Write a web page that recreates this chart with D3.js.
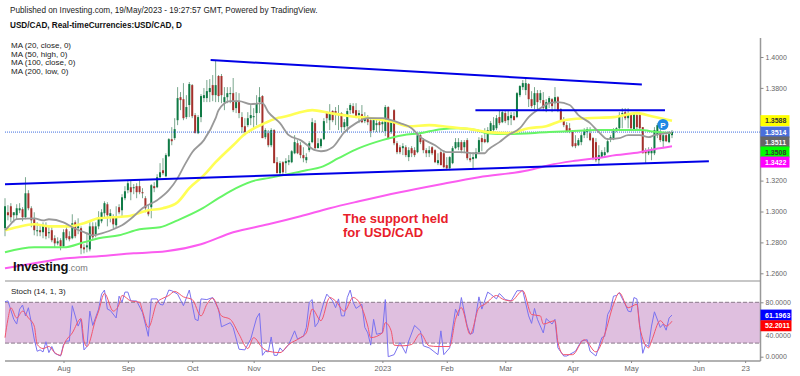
<!DOCTYPE html>
<html>
<head>
<meta charset="utf-8">
<script src="https://cdn.jsdelivr.net/npm/d3@7"></script>
<style>
  html, body { margin: 0; padding: 0; background: #fff; overflow: hidden; }
  text { font-family: "Liberation Sans", Arial, sans-serif; }
</style>
</head>
<body>
<div id="chart"></div>
<script>
// daily USD/CAD candles, one row = 10 trading days
const opens = [
  1.2892,1.2995,1.3034,1.2976,1.2976,1.3008,1.3015,1.2963,1.3118,1.3021,
  1.2950,1.2872,1.2879,1.2866,1.2911,1.2859,1.2879,1.2827,1.2794,1.2814,
  1.2775,1.2885,1.2840,1.2827,1.2930,1.2892,1.2892,1.2768,1.2768,1.2755,
  1.2904,1.2853,1.2904,1.2937,1.2989,1.3047,1.2969,1.2969,1.2911,1.3028,
  1.3008,1.3086,1.3138,1.3157,1.3151,1.3164,1.3164,1.3125,1.3086,1.3008,
  1.3028,1.3164,1.3157,1.3222,1.3267,1.3228,1.3358,1.3468,1.3475,1.3591,
  1.3740,1.3727,1.3611,1.3689,1.3818,1.3624,1.3507,1.3611,1.3734,1.3734,
  1.3773,1.3818,1.3753,1.3877,1.3877,1.3708,1.3740,1.3760,1.3766,1.3669,
  1.3708,1.3611,1.3552,1.3559,1.3604,1.3611,1.3637,1.3708,1.3747,1.3481,
  1.3507,1.3429,1.3527,1.3319,1.3248,1.3319,1.3313,1.3319,1.3319,1.3377,
  1.3442,1.3429,1.3365,1.3332,1.3397,1.3449,1.3572,1.3410,1.3423,1.3468,
  1.3643,1.3591,1.3650,1.3650,1.3624,1.3637,1.3546,1.3552,1.3656,1.3682,
  1.3656,1.3624,1.3630,1.3585,1.3604,1.3591,1.3527,1.3559,1.3578,1.3565,
  1.3520,1.3676,1.3514,1.3656,1.3442,1.3416,1.3410,1.3416,1.3352,1.3410,
  1.3397,1.3384,1.3494,1.3462,1.3397,1.3377,1.3416,1.3397,1.3313,1.3384,
  1.3377,1.3300,1.3280,1.3313,1.3410,1.3416,1.3449,1.3416,1.3462,1.3345,
  1.3339,1.3345,1.3384,1.3475,1.3468,1.3449,1.3514,1.3527,1.3539,1.3611,
  1.3578,1.3637,1.3591,1.3604,1.3617,1.3611,1.3753,1.3805,1.3786,1.3825,
  1.3727,1.3689,1.3766,1.3721,1.3721,1.3663,1.3701,1.3727,1.3701,1.3740,
  1.3663,1.3598,1.3559,1.3539,1.3520,1.3442,1.3429,1.3449,1.3494,1.3514,
  1.3507,1.3475,1.3449,1.3332,1.3352,1.3365,1.3384,1.3468,1.3468,1.3527,
  1.3539,1.3630,1.3643,1.3604,1.3624,1.3533,1.3624,1.3624,1.3546,1.3397,
  1.3377,1.3377,1.3377,1.3494,1.3514,1.3455,1.3494,1.3449,1.3494
];
const highs = [
  1.3086,1.3041,1.3054,1.2995,1.3047,1.3054,1.3028,1.3222,1.3138,1.3034,
  1.2995,1.2930,1.2911,1.2930,1.2930,1.2904,1.2904,1.2846,1.2833,1.2827,
  1.2885,1.2904,1.2872,1.2982,1.2943,1.2956,1.2904,1.2788,1.2866,1.2937,
  1.2930,1.2930,1.3002,1.3015,1.3066,1.3060,1.3015,1.2982,1.3034,1.3047,
  1.3112,1.3164,1.3203,1.3203,1.3177,1.3183,1.3209,1.3151,1.3099,1.3041,
  1.3177,1.3190,1.3241,1.3313,1.3345,1.3377,1.3475,1.3546,1.3604,1.3805,
  1.3773,1.3831,1.3753,1.3838,1.3825,1.3637,1.3624,1.3760,1.3799,1.3851,
  1.3857,1.3883,1.3980,1.3883,1.3890,1.3805,1.3805,1.3805,1.3864,1.3773,
  1.3766,1.3643,1.3604,1.3643,1.3689,1.3669,1.3753,1.3805,1.3753,1.3539,
  1.3527,1.3539,1.3533,1.3352,1.3326,1.3326,1.3345,1.3365,1.3397,1.3494,
  1.3462,1.3449,1.3416,1.3377,1.3455,1.3604,1.3591,1.3475,1.3475,1.3604,
  1.3650,1.3695,1.3656,1.3676,1.3689,1.3643,1.3598,1.3669,1.3701,1.3701,
  1.3701,1.3656,1.3689,1.3643,1.3624,1.3611,1.3604,1.3604,1.3591,1.3591,
  1.3689,1.3682,1.3591,1.3663,1.3455,1.3429,1.3442,1.3429,1.3416,1.3423,
  1.3416,1.3507,1.3514,1.3475,1.3410,1.3423,1.3423,1.3403,1.3377,1.3397,
  1.3397,1.3352,1.3358,1.3423,1.3475,1.3475,1.3462,1.3462,1.3475,1.3384,
  1.3384,1.3410,1.3481,1.3494,1.3539,1.3546,1.3585,1.3611,1.3624,1.3656,
  1.3656,1.3650,1.3656,1.3643,1.3643,1.3773,1.3818,1.3851,1.3870,1.3831,
  1.3779,1.3805,1.3786,1.3786,1.3773,1.3727,1.3747,1.3734,1.3805,1.3747,
  1.3669,1.3611,1.3578,1.3572,1.3527,1.3494,1.3475,1.3507,1.3539,1.3546,
  1.3546,1.3481,1.3475,1.3429,1.3397,1.3416,1.3475,1.3494,1.3539,1.3546,
  1.3643,1.3669,1.3669,1.3669,1.3637,1.3643,1.3637,1.3637,1.3546,1.3410,
  1.3416,1.3416,1.3546,1.3572,1.3539,1.3514,1.3507,1.3520,1.3527
];
const lows = [
  1.2840,1.2943,1.2930,1.2930,1.2950,1.2989,1.2937,1.2950,1.3008,1.2898,
  1.2846,1.2840,1.2840,1.2827,1.2820,1.2827,1.2801,1.2768,1.2781,1.2749,
  1.2768,1.2814,1.2807,1.2820,1.2827,1.2853,1.2723,1.2729,1.2736,1.2742,
  1.2820,1.2833,1.2885,1.2924,1.2963,1.2904,1.2930,1.2892,1.2898,1.2982,
  1.2969,1.3073,1.3118,1.3073,1.3112,1.3086,1.3112,1.3086,1.2995,1.2969,
  1.2956,1.3125,1.3151,1.3216,1.3235,1.3222,1.3352,1.3429,1.3462,1.3559,
  1.3656,1.3591,1.3598,1.3611,1.3604,1.3507,1.3501,1.3578,1.3708,1.3708,
  1.3708,1.3714,1.3708,1.3708,1.3701,1.3656,1.3701,1.3701,1.3643,1.3637,
  1.3604,1.3507,1.3494,1.3546,1.3559,1.3539,1.3559,1.3637,1.3475,1.3468,
  1.3416,1.3416,1.3313,1.3248,1.3235,1.3235,1.3248,1.3300,1.3313,1.3371,
  1.3371,1.3345,1.3319,1.3313,1.3384,1.3442,1.3403,1.3410,1.3410,1.3462,
  1.3572,1.3527,1.3578,1.3559,1.3527,1.3514,1.3527,1.3514,1.3630,1.3630,
  1.3604,1.3572,1.3572,1.3572,1.3559,1.3481,1.3514,1.3514,1.3514,1.3514,
  1.3488,1.3468,1.3501,1.3429,1.3371,1.3371,1.3365,1.3352,1.3326,1.3352,
  1.3352,1.3377,1.3436,1.3377,1.3352,1.3352,1.3365,1.3313,1.3300,1.3300,
  1.3280,1.3267,1.3267,1.3306,1.3403,1.3397,1.3377,1.3384,1.3332,1.3319,
  1.3280,1.3339,1.3377,1.3390,1.3442,1.3442,1.3507,1.3514,1.3527,1.3559,
  1.3572,1.3572,1.3559,1.3559,1.3591,1.3604,1.3740,1.3786,1.3753,1.3676,
  1.3669,1.3663,1.3663,1.3701,1.3650,1.3643,1.3669,1.3643,1.3656,1.3643,
  1.3578,1.3546,1.3514,1.3507,1.3416,1.3410,1.3423,1.3429,1.3475,1.3475,
  1.3455,1.3332,1.3319,1.3306,1.3352,1.3352,1.3377,1.3449,1.3462,1.3514,
  1.3533,1.3539,1.3591,1.3539,1.3527,1.3527,1.3527,1.3527,1.3377,1.3313,
  1.3365,1.3332,1.3365,1.3475,1.3449,1.3410,1.3449,1.3442,1.3475
];
const closes = [
  1.3034,1.2976,1.2963,1.2995,1.3021,1.3021,1.2963,1.3118,1.3021,1.2943,
  1.2879,1.2879,1.2866,1.2911,1.2840,1.2866,1.2814,1.2794,1.2807,1.2775,
  1.2866,1.2827,1.2820,1.2924,1.2840,1.2904,1.2762,1.2755,1.2781,1.2904,
  1.2833,1.2904,1.2963,1.2995,1.3054,1.2976,1.2989,1.2917,1.2969,1.2995,
  1.3092,1.3131,1.3183,1.3125,1.3157,1.3125,1.3125,1.3118,1.3021,1.2982,
  1.3170,1.3151,1.3222,1.3254,1.3248,1.3365,1.3468,1.3455,1.3533,1.3734,
  1.3721,1.3604,1.3676,1.3825,1.3617,1.3507,1.3611,1.3747,1.3753,1.3779,
  1.3799,1.3753,1.3818,1.3747,1.3753,1.3740,1.3766,1.3766,1.3656,1.3708,
  1.3637,1.3546,1.3514,1.3604,1.3624,1.3617,1.3701,1.3740,1.3475,1.3527,
  1.3429,1.3527,1.3313,1.3248,1.3313,1.3254,1.3326,1.3332,1.3390,1.3449,
  1.3377,1.3365,1.3345,1.3352,1.3442,1.3578,1.3410,1.3442,1.3468,1.3585,
  1.3604,1.3643,1.3591,1.3630,1.3637,1.3546,1.3578,1.3650,1.3689,1.3637,
  1.3611,1.3637,1.3578,1.3604,1.3578,1.3520,1.3591,1.3572,1.3559,1.3578,
  1.3676,1.3475,1.3578,1.3442,1.3384,1.3384,1.3423,1.3365,1.3397,1.3377,
  1.3365,1.3494,1.3449,1.3397,1.3377,1.3397,1.3377,1.3319,1.3332,1.3300,
  1.3287,1.3280,1.3352,1.3410,1.3449,1.3449,1.3397,1.3449,1.3345,1.3332,
  1.3352,1.3384,1.3462,1.3449,1.3449,1.3527,1.3572,1.3559,1.3604,1.3572,
  1.3643,1.3585,1.3617,1.3624,1.3591,1.3766,1.3812,1.3831,1.3831,1.3727,
  1.3682,1.3766,1.3708,1.3766,1.3669,1.3708,1.3734,1.3682,1.3740,1.3656,
  1.3591,1.3559,1.3514,1.3520,1.3423,1.3423,1.3462,1.3494,1.3520,1.3533,
  1.3462,1.3345,1.3332,1.3365,1.3384,1.3384,1.3455,1.3481,1.3533,1.3539,
  1.3624,1.3637,1.3604,1.3630,1.3539,1.3630,1.3546,1.3539,1.3377,1.3377,
  1.3397,1.3397,1.3527,1.3559,1.3462,1.3494,1.3455,1.3501,1.3514
];

// moving averages, read at the bends of each line: day number + price
const ma20Days = [0,1,4,10,13,15,20,23,27,30,32,37,40,44,47,52,56,59,61,64,68,72,73,77,80,84,88,90,94,97,101,106,108,112,116,120,124,129,132,135,139,142,147,151,156,160,164,165,169,172,176,179,183,186,189,193,196,200,203,206,210,213,217,220,222,226,228];
const ma20 = [1.2879,1.2898,1.2950,1.2956,1.2943,1.2950,1.2930,1.2898,1.2866,1.2846,1.2853,1.2885,1.2911,1.2969,1.3021,1.3073,1.3138,1.3216,1.3287,1.3384,1.3462,1.3604,1.3656,1.3714,1.3714,1.3695,1.3701,1.3643,1.3572,1.3494,1.3462,1.3397,1.3390,1.3416,1.3514,1.3572,1.3604,1.3604,1.3591,1.3572,1.3539,1.3481,1.3429,1.3384,1.3384,1.3377,1.3377,1.3397,1.3449,1.3494,1.3539,1.3611,1.3669,1.3701,1.3708,1.3689,1.3624,1.3572,1.3514,1.3468,1.3475,1.3494,1.3494,1.3481,1.3494,1.3507,1.3511];
const ma50Days = [0,4,10,15,22,27,32,37,42,49,54,59,63,68,72,78,82,88,93,95,100,105,111,118,125,133,138,145,152,159,165,172,179,185,191,199,208,216,221,228];
const ma50 = [1.2879,1.2898,1.2917,1.2904,1.2904,1.2924,1.2956,1.2963,1.2969,1.3008,1.3021,1.3060,1.3151,1.3235,1.3319,1.3429,1.3501,1.3565,1.3604,1.3611,1.3637,1.3656,1.3637,1.3617,1.3604,1.3578,1.3552,1.3559,1.3546,1.3533,1.3514,1.3507,1.3539,1.3552,1.3591,1.3604,1.3611,1.3637,1.3617,1.3588];
const ma100Days = [0,10,20,27,32,39,46,53,59,67,73,79,86,90,103,108,114,121,129,136,142,149,155,161,165,172,186,193,202,210,217,223,228];
const ma100 = [1.2736,1.2768,1.2768,1.2801,1.2827,1.2846,1.2885,1.2898,1.2943,1.3015,1.3086,1.3151,1.3203,1.3216,1.3267,1.3287,1.3345,1.3410,1.3462,1.3494,1.3507,1.3533,1.3539,1.3527,1.3507,1.3501,1.3514,1.3520,1.3527,1.3527,1.3527,1.3514,1.3508];
const ma200Days = [0,10,21,32,44,55,67,78,90,101,111,121,135,149,162,179,186,194,202,209,217,222,228];
const ma200 = [1.2632,1.2665,1.2697,1.2710,1.2729,1.2742,1.2788,1.2866,1.2917,1.2969,1.3021,1.3066,1.3125,1.3177,1.3222,1.3267,1.3300,1.3326,1.3345,1.3365,1.3384,1.3403,1.3422];

// hand drawn trend lines: [start, end] in days and prices
const upperDays = [70.3,217.7], upperPrices = [1.3980,1.3822];
const resistDays = [160.8,225.6], resistPrices = [1.3656,1.3656];
const supportDays = [0,240.6], supportPrices = [1.3177,1.3326];

// stochastic, read at the bends
const stochKDays = [0,1,3,4,5,6,7,8,9,10,11,12,13,14,15,16,17,19,20,21,22,23,25,26,27,28,29,30,32,33,34,35,36,38,39,40,41,42,43,45,47,49,50,52,53,54,56,57,59,61,63,65,66,67,69,71,73,74,77,78,80,82,84,86,87,88,89,90,91,92,93,94,95,97,99,100,102,103,104,105,106,107,109,110,112,113,114,115,116,117,118,119,120,122,123,124,125,126,127,129,130,131,133,135,137,138,140,142,143,145,148,149,150,152,154,155,156,158,159,160,162,163,165,166,168,169,171,173,175,177,179,180,181,182,184,185,187,188,189,191,192,195,197,199,200,202,204,205,206,207,208,209,210,212,213,214,215,216,218,219,220,221,222,224,225,226,227,228];
const stochK = [81,82,55,48,70,76,60,72,50,26,8,10,7,22,6,15,5,1,18,23,23,75,45,55,10,15,67,46,70,92,98,70,68,57,89,80,95,95,82,82,65,30,85,85,77,76,98,97,92,75,98,55,53,85,84,87,70,44,50,43,11,10,26,57,64,2,8,7,29,2,2,13,8,18,38,26,30,43,80,84,44,50,80,92,82,72,85,60,60,87,98,80,71,77,43,35,17,55,33,35,84,0,3,21,5,23,46,38,16,13,3,38,3,13,70,60,87,45,33,35,88,70,95,92,85,93,84,82,97,97,60,49,71,55,35,56,48,55,13,1,1,8,23,25,8,1,28,30,62,70,89,90,94,77,67,66,87,85,5,18,15,45,66,43,48,39,57,61.1963];
const stochDDays = [0,1,2,4,6,8,10,11,13,15,17,19,20,23,26,27,28,31,32,34,37,39,40,43,46,47,49,52,54,56,58,61,64,67,69,71,74,77,80,83,85,88,90,94,97,101,103,105,108,111,113,116,119,122,124,125,129,130,132,133,136,139,142,145,148,152,154,156,159,162,164,168,170,173,177,180,183,184,188,189,191,194,198,202,205,208,210,213,216,217,220,221,224,226,228];
const stochD = [28,55,72,57,67,57,45,18,12,15,6,2,16,35,56,23,15,55,67,93,67,77,90,82,80,67,43,80,86,90,96,88,84,60,77,86,60,55,33,12,28,13,8,6,18,28,35,70,53,87,82,67,87,72,45,28,35,50,38,17,16,18,34,16,15,15,55,72,33,72,77,90,85,82,97,62,60,48,53,21,3,3,25,7,33,77,94,72,77,43,13,23,53,45,52.2011];

// axis labels
const priceTicks = [1.40,1.38,1.32,1.30,1.28,1.26];
const stochTicks = [80,40,0];
const monthLabels = ["Aug","Sep","Oct","Nov","Dec","2023","Feb","Mar","Apr","May","Jun","23"];
const monthDays = [20,42,64,85,107,129,151,171,194,214,237,253];
const legendLines = ["MA (20, close, 0)","MA (50, high, 0)","MA (100, close, 0)","MA (200, low, 0)"];
const lastPrices = [
  {v: 1.3588, show: 1.3588, fill: "#ffff00", text: "#333"},
  {v: 1.3514, show: 1.3514, fill: "#4a6fdc", text: "#fff"},
  {v: 1.3450, show: 1.3511, fill: "#666666", text: "#fff"},
  {v: 1.3385, show: 1.3508, fill: "#00ff00", text: "#333"},
  {v: 1.3320, show: 1.3422, fill: "#ff00ff", text: "#fff"}
];
const lastStoch = [
  {v: 61.1963, fill: "#0000ff"},
  {v: 45.5, show: 52.2011, fill: "#ff0000"}
];

const width = 800, height = 376;
const svg = d3.select("#chart").append("svg")
  .attr("width", width).attr("height", height)
  .style("display", "block");

const axisX = 760.5;
const x = d3.scaleLinear().domain([0, 228]).range([5, 672]);
const y = d3.scaleLinear().domain([1.26, 1.40]).range([273.3, 57]);
const ys = d3.scaleLinear().domain([0, 80]).range([356.7, 302.3]);

// titles
svg.append("text").attr("x", 10).attr("y", 13).attr("font-size", 8.2).attr("fill", "#222")
  .text("Published on Investing.com, 19/May/2023 - 19:27:57 GMT, Powered by TradingView.");
svg.append("text").attr("x", 10).attr("y", 28).attr("font-size", 8.2).attr("font-weight", "bold").attr("fill", "#111")
  .text("USD/CAD, Real-timeCurrencies:USD/CAD, D");
svg.append("g").selectAll("text").data(legendLines).join("text")
  .attr("x", 11).attr("y", (d, i) => 48 + i * 8.5)
  .attr("font-size", 8).attr("fill", "#222").text(d => d);

// stoch panel background
svg.append("rect").attr("x", 5).attr("y", ys(80)).attr("width", axisX - 5).attr("height", ys(20) - ys(80))
  .attr("fill", "#dfbfdf");
svg.append("g").selectAll("line").data([80, 20]).join("line")
  .attr("x1", 5).attr("x2", axisX).attr("y1", d => ys(d)).attr("y2", d => ys(d))
  .attr("stroke", "#8a7a8a").attr("stroke-width", 1).attr("stroke-dasharray", "4,2");

// candles
const candles = svg.append("g");
closes.forEach((c, i) => {
  const up = c >= opens[i];
  candles.append("line")
    .attr("x1", x(i)).attr("x2", x(i)).attr("y1", y(highs[i])).attr("y2", y(lows[i]))
    .attr("stroke", "#4d8a68").attr("stroke-opacity", 0.75).attr("stroke-width", 1);
  candles.append("rect")
    .attr("x", x(i) - 1).attr("width", 2)
    .attr("y", y(Math.max(c, opens[i])))
    .attr("height", Math.max(1, Math.abs(y(c) - y(opens[i]))))
    .attr("fill", up ? "#0f7a45" : "#a5302c");
});

// last price dotted line
svg.append("line").attr("x1", 5).attr("x2", axisX).attr("y1", y(1.3514)).attr("y2", y(1.3514))
  .attr("stroke", "#3f6fe0").attr("stroke-width", 1).attr("stroke-dasharray", "1,1");

// moving averages
const maLine = d3.line().x(d => x(d[0])).y(d => y(d[1])).curve(d3.curveMonotoneX);
function drawMa(days, values, color, w) {
  svg.append("path").datum(d3.zip(days, values))
    .attr("fill", "none").attr("stroke", color).attr("stroke-width", w).attr("d", maLine);
}
drawMa(ma200Days, ma200, "#fb5cf0", 2);
drawMa(ma100Days, ma100, "#66f566", 2);
drawMa(ma50Days, ma50, "#ffff55", 2.6);
drawMa(ma20Days, ma20, "#999999", 1.8);

// trend lines
function drawTrend(days, prices) {
  svg.append("line")
    .attr("x1", x(days[0])).attr("x2", x(days[1]))
    .attr("y1", y(prices[0])).attr("y2", y(prices[1]))
    .attr("stroke", "#0000e6").attr("stroke-width", 2);
}
drawTrend(upperDays, upperPrices);
drawTrend(resistDays, resistPrices);
drawTrend(supportDays, supportPrices);

// annotation
svg.append("text").attr("x", 343).attr("y", 223).attr("font-size", 13).attr("font-weight", "bold")
  .attr("fill", "#e8202a").text("The support held");
svg.append("text").attr("x", 343).attr("y", 237).attr("font-size", 13).attr("font-weight", "bold")
  .attr("fill", "#e8202a").text("for USD/CAD");

// watermark
const logo = svg.append("text").attr("x", 13).attr("y", 271);
logo.append("tspan").attr("font-size", 13).attr("font-weight", "bold").attr("letter-spacing", -0.2).attr("fill", "#111").text("Investing");
logo.append("tspan").attr("font-size", 9).attr("fill", "#777").text(".com");

// P marker
svg.append("circle").attr("cx", 663).attr("cy", 124.5).attr("r", 5.5).attr("fill", "#1e88e5");
svg.append("text").attr("x", 663).attr("y", 127.5).attr("text-anchor", "middle")
  .attr("font-size", 8).attr("font-weight", "bold").attr("fill", "#fff").text("P");

// stoch lines
const stochLine = d3.line().x(d => x(d[0])).y(d => ys(d[1]));
svg.append("text").attr("x", 11).attr("y", 294).attr("font-size", 8).attr("fill", "#222").text("Stoch (14, 1, 3)");
svg.append("path").datum(d3.zip(stochKDays, stochK))
  .attr("fill", "none").attr("stroke", "#7a72f0").attr("stroke-width", 1).attr("d", stochLine);
svg.append("path").datum(d3.zip(stochDDays, stochD))
  .attr("fill", "none").attr("stroke", "#f2566e").attr("stroke-width", 1)
  .attr("d", stochLine.curve(d3.curveMonotoneX));

// frame lines
svg.append("line").attr("x1", 5).attr("x2", axisX).attr("y1", 281).attr("y2", 281)
  .attr("stroke", "#b5b5b5").attr("stroke-width", 1.5);

// axes
function styleAxis(g, size) {
  g.select(".domain").attr("stroke", "#999").attr("stroke-width", 1.5);
  g.selectAll(".tick line").attr("stroke", "#888");
  g.selectAll("text").attr("font-size", size).attr("fill", "#666")
    .style("font-family", '"Liberation Sans", Arial, sans-serif');
}
svg.append("g").attr("transform", "translate(0,361)")
  .call(d3.axisBottom(x).tickValues(monthDays).tickSize(2).tickPadding(3)
    .tickFormat((d, i) => monthLabels[i]))
  .call(g => g.select(".domain").attr("d", `M5,0H${axisX}`))
  .call(styleAxis, 7.5);
svg.append("g").attr("transform", `translate(${axisX},0)`)
  .call(d3.axisRight(y).tickValues(priceTicks).tickSize(3).tickPadding(2).tickFormat(d3.format(".4f")))
  .call(g => g.select(".domain").attr("d", "M0,38V361"))
  .call(styleAxis, 7);
svg.append("g").attr("transform", `translate(${axisX},0)`)
  .call(d3.axisRight(ys).tickValues(stochTicks).tickSize(3).tickPadding(2).tickFormat(d3.format(".4f")))
  .call(g => g.select(".domain").remove())
  .call(styleAxis, 7)
  // the 40 label sits just under the red value box, where it peeks out in the original
  .call(g => g.selectAll(".tick text").filter(d => d === 40).attr("dy", "1.15em"));

// last value boxes on the axes
function valueBox(cy, fill, textFill, label, w) {
  svg.append("rect").attr("x", axisX).attr("y", cy - 5.5).attr("width", w).attr("height", 11).attr("fill", fill);
  svg.append("text").attr("x", axisX + 4.5).attr("y", cy + 2.6).attr("font-size", 7).attr("font-weight", "bold")
    .attr("fill", textFill).text(label);
}
lastPrices.forEach(d => valueBox(y(d.v), d.fill, d.text, d.show.toFixed(4), 29));
lastStoch.forEach(d => valueBox(ys(d.v), d.fill, "#fff", (d.show || d.v).toFixed(4), 31));
</script>
</body>
</html>
